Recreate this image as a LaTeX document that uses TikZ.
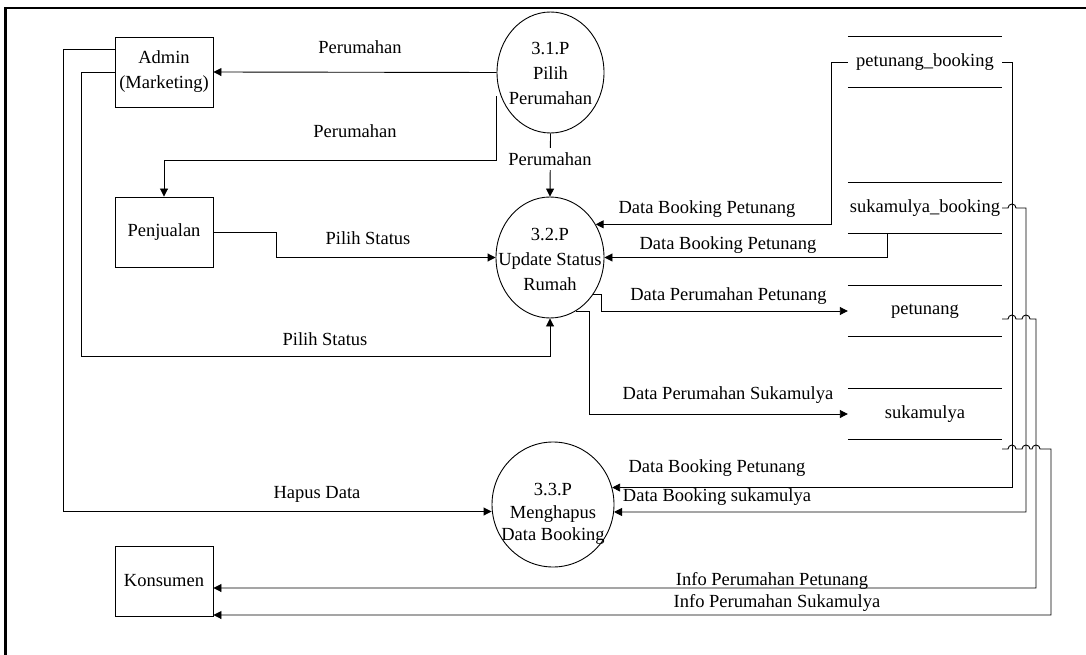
\documentclass[tikz,border=0pt]{standalone}
\usepackage{fontspec}
\setmainfont{Liberation Serif}
\usetikzlibrary{arrows.meta,shapes.geometric,calc}
\begin{document}
\begin{tikzpicture}[x=1pt,y=-1pt,
  every node/.style={font=\fontsize{18.5}{25}\selectfont, inner sep=0pt},
  ent/.style={draw, line width=0.9pt, minimum width=98pt, minimum height=70pt, align=center},
  proc/.style={draw, ellipse, line width=0.9pt},
  ptext/.style={align=center},
  store/.style={minimum width=154pt, minimum height=50pt},
  flow/.style={line width=0.9pt},
  arr/.style={flow, -{Triangle[length=8pt,width=8pt]}},
  hop/.style={},
]
\useasboundingbox (0,0) rectangle (1086,655);
% frame
\draw[line width=2.7pt] (5.8,660) -- (5.8,8) -- (1090,8);

% external entities
\node[ent] (admin) at (164,72) {Admin\\(Marketing)};
\node[ent] (penj) at (164,232) {Penjualan};
\node[ent] (kons) at (164,581) {Konsumen};

% processes
\node[proc, minimum width=107pt, minimum height=121pt] (p1) at (550.5,72.5) {};
\node[ptext] (p1t) at (550.5,73) {3.1.P\\Pilih\\Perumahan};
\node[proc, minimum width=108pt, minimum height=121pt] (p2) at (550,257.5) {};
\node[ptext] (p2t) at (550,259) {3.2.P\\Update Status\\Rumah};
\node[proc, minimum width=122pt, minimum height=125pt] (p3) at (553,504.5) {};
\node[ptext, font=\fontsize{18.5}{22.5}\selectfont] (p3t) at (553,514) {3.3.P\\Menghapus\\Data Booking};

% data stores
\node[store] (s1) at (925,62) {petunang\_booking};
\node[store] (s2) at (925,208) {sukamulya\_booking};
\node[store] (s3) at (925,311) {petunang};
\node[store] (s4) at (925,414) {sukamulya};
\foreach \s in {s1,s2,s3,s4}
  \draw[flow] (\s.north west) -- (\s.north east) (\s.south west) -- (\s.south east);

% bus columns
\coordinate (xA) at (1012,0);
\coordinate (xB) at (1026,0);
\coordinate (xC) at (1036,0);
\coordinate (xD) at (1051,0);
\coordinate (h3) at ([yshift=-8pt]s3.east);
\coordinate (h4) at ([yshift=-35pt]s4.east);

% flows
\draw[arr] (p1.west) -- (admin.east);
\node (l1) at (360,47) {Perumahan};

\draw[arr] ([yshift=-24pt]p1.west) -- ++(0,64) -| (penj.north);
\node (l2) at (355,131) {Perumahan};

\draw[arr] (p1.south) -- (p2.north);
\node[fill=white, inner ysep=4pt, inner xsep=2pt] (l3) at (550,159) {Perumahan};

\draw[arr] (penj.east) -- ++(63,0) |- (p2.west);
\node (l4) at (368,238) {Pilih Status};

\draw[arr] (admin.west) -- ++(-33,0) -- ++(0,284) -| (p2.south);
\node (l5) at (325,339) {Pilih Status};

\draw[arr] ([yshift=23pt]admin.west) -- ++(-51,0) |- ([yshift=-7pt]p3.west);
\node (l6) at (317,494) {Hapus Data};

\draw[arr] (s1.west) -- ++(-16,0) |- (p2.36.7);
\node (l7) at (707,209) {Data Booking Petunang};

\draw[arr] ([xshift=-38pt]s2.south) |- (p2.east);
\node (l8) at (728,245) {Data Booking Petunang};

\draw[arr] (p2.-41.5) -- ++(8,0) |- (s3.west);
\node (l9) at (728.5,296) {Data Perumahan Petunang};

\draw[arr] (p2.-64.8) -- ++(13,0) |- (s4.west);
\node (l10) at (728,395) {Data Perumahan Sukamulya};

\draw[arr] (s1.east) -- (xA |- s1.east) |- (p3.16.6);
\node (l11) at (717,468) {Data Booking Petunang};

\draw[arr] (s2.east) -- ([xshift=-4pt]xA |- s2.east) arc[start angle=180,end angle=0,radius=4pt]
  -- (xB |- s2.east) |- (p3.-7.06);
\node (l12) at (717,497) {Data Booking sukamulya};

\draw[arr] (h3) -- ([xshift=-4pt]xA |- h3) arc[start angle=180,end angle=0,radius=4pt]
  -- ([xshift=-4pt]xB |- h3) arc[start angle=180,end angle=0,radius=4pt]
  -- (xC |- h3) |- ([yshift=-7pt]kons.east);
\node (l13) at (772,581) {Info Perumahan Petunang};

\draw[arr] (h4) -- ([xshift=-4pt]xA |- h4) arc[start angle=180,end angle=0,radius=4pt]
  -- ([xshift=-4pt]xB |- h4) arc[start angle=180,end angle=0,radius=4pt]
  -- ([xshift=-4pt]xC |- h4) arc[start angle=180,end angle=0,radius=4pt]
  -- (xD |- h4) |- ([yshift=-34pt]kons.east);
\node (l14) at (777,603) {Info Perumahan Sukamulya};
\end{tikzpicture}
\end{document}
